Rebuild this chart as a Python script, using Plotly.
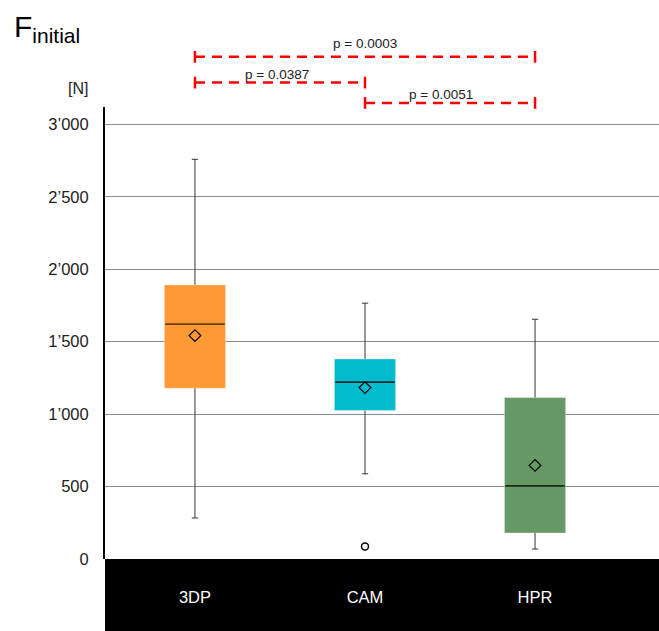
import plotly.graph_objects as go

# ---- data ----
categories = ["3DP", "CAM", "HPR"]
q1 = [1179, 1025, 179]
median = [1621, 1221, 505]
q3 = [1892, 1381, 1115]
lower_fence = [283, 588, 69]
upper_fence = [2759, 1766, 1655]
mean = [1542, 1183, 646]
outlier_cat = ["CAM"]
outlier_val = [87]

y_tickvals = [0, 500, 1000, 1500, 2000, 2500, 3000]
y_ticktext = ["0", "500", "1\u2019000", "1\u2019500", "2\u2019000", "2\u2019500", "3\u2019000"]

comparisons = [("3DP", "HPR", "p = 0.0003"),
               ("3DP", "CAM", "p = 0.0387"),
               ("CAM", "HPR", "p = 0.0051")]

# ---- style ----
box_colors = ["#FF9933", "#00BCCC", "#669966"]
median_colors = ["rgba(80,45,10,0.85)", "rgba(10,25,30,0.9)", "rgba(15,30,15,0.9)"]
bracket_levels = [1.111, 1.054, 1.009]
text_levels = [1.141, 1.072, 1.028]
text_xshift = [0, -3, -9]
FONT = "Liberation Sans, Arial, sans-serif"

xpos = list(range(len(categories)))
idx = {c: i for i, c in enumerate(categories)}

fig = go.Figure()

# box bodies
fig.add_trace(go.Bar(
    x=xpos, base=q1, y=[b - a for a, b in zip(q1, q3)],
    width=0.36, marker=dict(color=box_colors, line=dict(width=1, color="rgba(255,255,255,0.35)")),
    showlegend=False, hoverinfo="skip"))

# whiskers
for i in xpos:
    fig.add_trace(go.Scatter(
        x=[i, i, None, i, i], y=[lower_fence[i], q1[i], None, q3[i], upper_fence[i]],
        mode="lines", line=dict(color="#333333", width=1), showlegend=False, hoverinfo="skip"))

# whisker caps
fig.add_trace(go.Scatter(
    x=xpos + xpos, y=lower_fence + upper_fence, mode="markers",
    marker=dict(symbol="line-ew", size=4.5, line=dict(color="#333333", width=1)),
    showlegend=False, hoverinfo="skip"))

# medians
for i in xpos:
    fig.add_trace(go.Scatter(
        x=[i], y=[median[i]], mode="markers",
        marker=dict(symbol="line-ew", size=42.5, line=dict(color=median_colors[i], width=1.6)),
        showlegend=False, hoverinfo="skip"))

# means
fig.add_trace(go.Scatter(
    x=xpos, y=mean, mode="markers",
    marker=dict(symbol="diamond-open", size=9, color="black", line=dict(color="black", width=1.2)),
    showlegend=False, hoverinfo="skip"))

# outliers
fig.add_trace(go.Scatter(
    x=[idx[c] for c in outlier_cat], y=outlier_val, mode="markers",
    marker=dict(symbol="circle-open", size=7, color="black", line=dict(color="black", width=1.5)),
    showlegend=False, hoverinfo="skip"))

shapes = []
annotations = []
# black band under the plot
shapes.append(dict(type="rect", xref="paper", yref="paper", x0=0, x1=1, y0=-0.3, y1=0,
                   fillcolor="black", line=dict(width=0), layer="below"))
# significance brackets
for k, (a, b, label) in enumerate(comparisons):
    xa, xb = idx[a], idx[b]
    lv = bracket_levels[k]
    shapes.append(dict(type="line", xref="x", yref="paper", x0=xa, x1=xb, y0=lv, y1=lv,
                       line=dict(color="#FF0000", width=2.5, dash="10px,7px")))
    for xe in (xa, xb):
        shapes.append(dict(type="line", xref="x", yref="paper", x0=xe, x1=xe,
                           y0=lv - 0.013, y1=lv + 0.013,
                           line=dict(color="#FF0000", width=2.5)))
    annotations.append(dict(xref="x", yref="paper", x=(xa + xb) / 2, y=text_levels[k],
                            text=label, showarrow=False, xshift=text_xshift[k],
                            font=dict(family=FONT, size=13.5, color="#222222"),
                            xanchor="center", yanchor="middle"))

annotations.append(dict(xref="paper", yref="paper", x=-0.167, y=1.22, xanchor="left", yanchor="top",
                        text="F<sub>initial</sub>", showarrow=False,
                        font=dict(family=FONT, size=30, color="black")))
annotations.append(dict(xref="paper", yref="paper", x=-0.027, y=1.04, xanchor="right", yanchor="middle",
                        text="[N]", showarrow=False,
                        font=dict(family=FONT, size=16, color="#222222")))

fig.update_layout(
    width=659, height=631,
    margin=dict(l=105, r=0, t=107, b=72, pad=0),
    plot_bgcolor="white", paper_bgcolor="white",
    shapes=shapes, annotations=annotations,
    font=dict(family=FONT),
    xaxis=dict(range=[-0.529, 2.729], showgrid=False, zeroline=False, showline=False,
               ticks="", tickvals=xpos, ticktext=categories,
               tickfont=dict(family=FONT, size=16.5, color="white"), ticklabelstandoff=26,
               fixedrange=True),
    yaxis=dict(range=[0, 3120], showgrid=True, gridcolor="#8c8c8c", gridwidth=1,
               zeroline=False, showline=True, linecolor="black", linewidth=2,
               ticks="", tickvals=y_tickvals, ticktext=y_ticktext,
               tickfont=dict(family=FONT, size=16.5, color="#222222"), ticklabelstandoff=11,
               fixedrange=True),
)

fig.write_html("out.html", config={"displayModeBar": False, "staticPlot": True},
               post_script="document.body.style.margin='0';document.body.style.overflow='hidden';")
